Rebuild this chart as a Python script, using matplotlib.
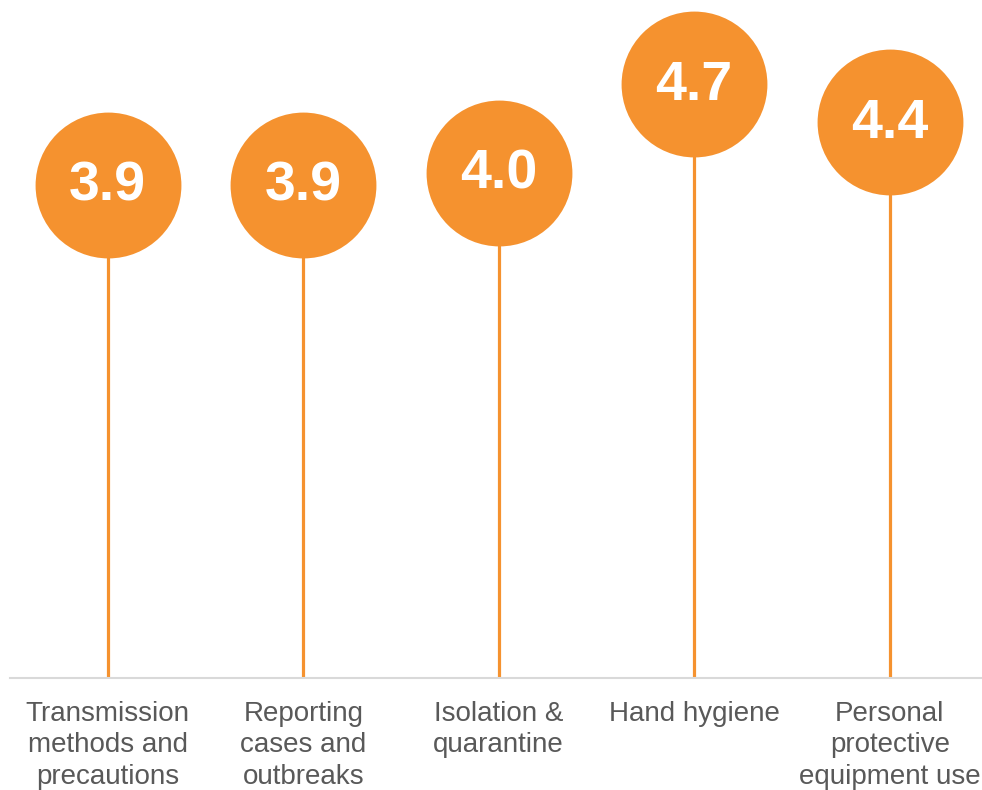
import matplotlib
matplotlib.use("Agg")
import matplotlib.pyplot as plt

plt.rcParams['font.family'] = ['Liberation Sans', 'DejaVu Sans']

categories = [
    "Transmission\nmethods and\nprecautions",
    "Reporting\ncases and\noutbreaks",
    "Isolation &\nquarantine",
    "Hand hygiene",
    "Personal\nprotective\nequipment use",
]
scores = [3.9, 3.9, 4.0, 4.7, 4.4]

orange = "#F5922F"
label_grey = "#595959"

fig = plt.figure(figsize=(9.82, 7.90), dpi=100)
ax = fig.add_axes([10 / 982, 112 / 790, 972 / 982, 678 / 790])

x = list(range(len(categories)))

# stems
ax.vlines(x, 0, scores, color=orange, linewidth=2.3, zorder=2)
# lollipop heads
ax.scatter(x, scores, s=105 ** 2, color=orange, zorder=3, clip_on=False, linewidths=0)
for xi, v in zip(x, scores):
    ax.annotate(f"{v:.1f}", (xi, v), xytext=(0, -1), textcoords="offset points",
                ha="center", va="center", color="white",
                fontsize=40, fontweight="bold", zorder=4)

ax.set_xlim(-0.5, -0.5 + 972 / 195.5)
ax.set_ylim(0, 678 / 126.3)

ax.set_xticks(x)
ax.set_xticklabels(categories, fontsize=20, color=label_grey, linespacing=1.27)
ax.tick_params(axis="x", length=0, pad=16.5)
ax.set_yticks([])

for side in ["top", "right", "left"]:
    ax.spines[side].set_visible(False)
ax.spines["bottom"].set_color("#D9D9D9")
ax.spines["bottom"].set_linewidth(1.5)

fig.savefig("out.png", dpi=100)
